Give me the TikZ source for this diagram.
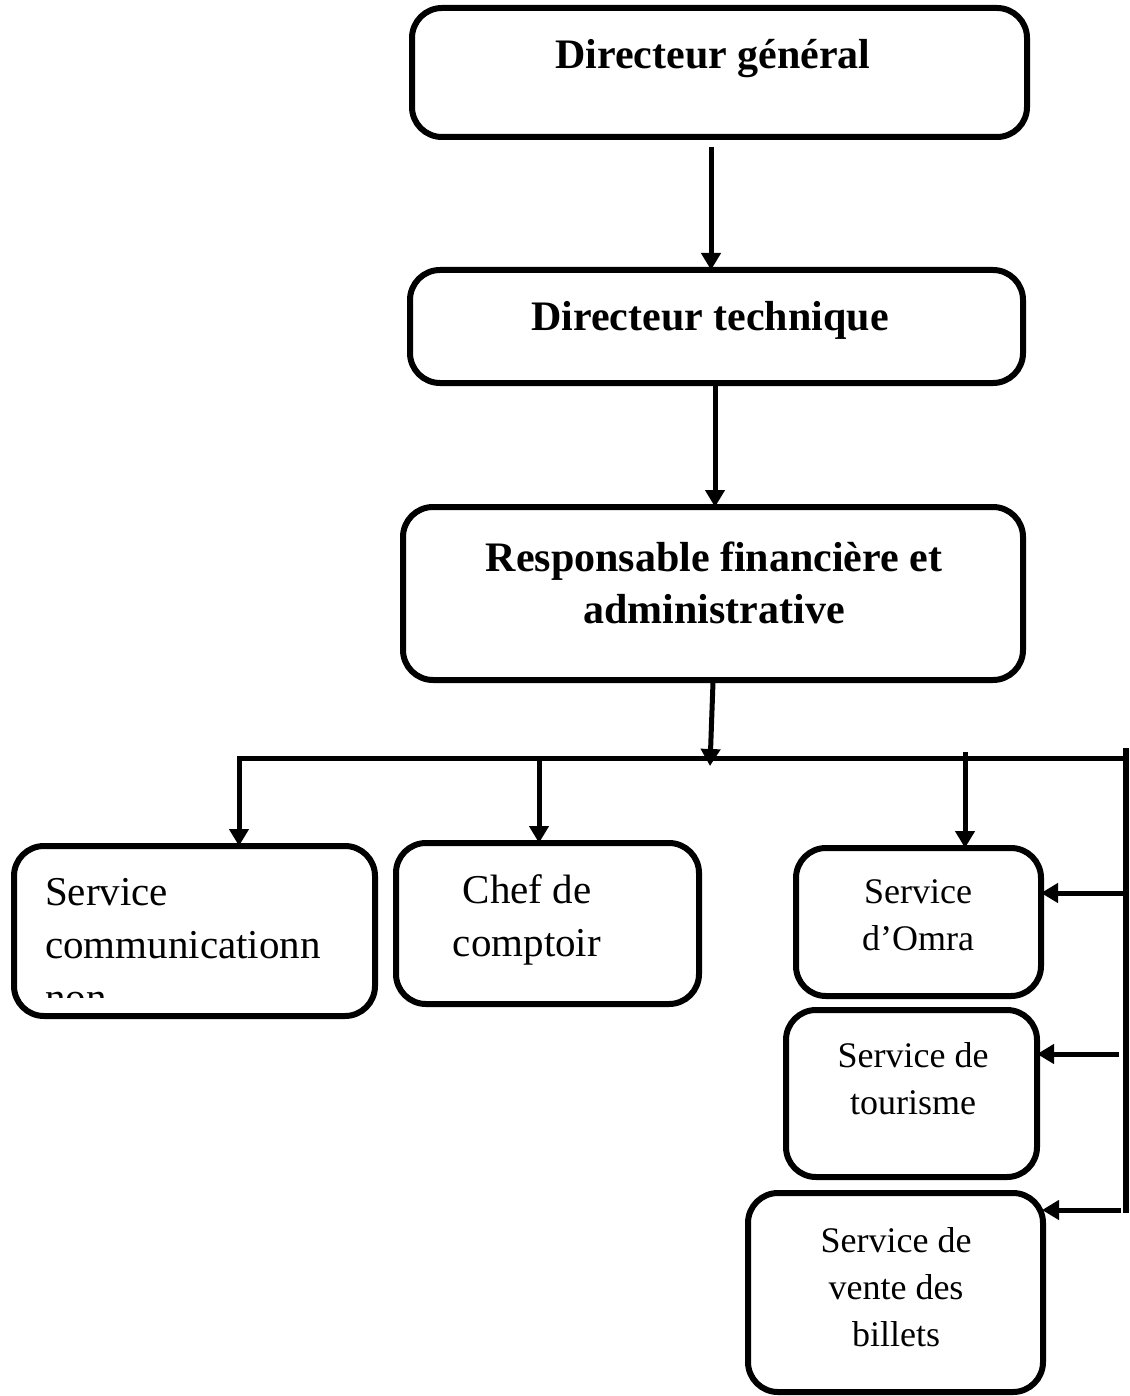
\documentclass[tikz,border=0pt]{standalone}
\usepackage{fontspec}
\setmainfont{Liberation Serif}
\usetikzlibrary{arrows.meta,calc}

\tikzset{
  box/.style={draw, line width=6pt, rounded corners=30pt, inner sep=0pt, outer sep=0pt},
  boldtxt/.style={align=center, inner sep=0pt, font=\fontsize{42}{52}\selectfont\bfseries},
  bigtxt/.style={align=center, inner sep=0pt, font=\fontsize{41}{53}\selectfont},
  smalltxt/.style={align=center, inner sep=0pt, font=\fontsize{36}{47}\selectfont},
  link/.style={line width=5pt, -{Triangle[length=17pt,width=19pt]}},
  bar/.style={line width=5pt},
}

\begin{document}
\begin{tikzpicture}[x=1pt,y=-1pt]
\useasboundingbox (0,0) rectangle (1129,1396);

% boxes
\node[box, minimum width=615pt, minimum height=129pt] (b1) at (719.5,72.5) {};
\node[box, minimum width=613pt, minimum height=113pt] (b2) at (716.5,326.5) {};
\node[box, minimum width=620pt, minimum height=173pt] (b3) at (713,593.5) {};
\node[box, minimum width=361pt, minimum height=170pt] (b4) at (194.5,931) {};
\node[box, minimum width=303pt, minimum height=161pt] (b5) at (547.5,923.5) {};
\node[box, minimum width=245pt, minimum height=148pt] (b6) at (918.5,922) {};
\node[box, minimum width=251pt, minimum height=167pt] (b7) at (911.5,1093.5) {};
\node[box, minimum width=295pt, minimum height=199pt] (b8) at (895.5,1292.5) {};

% labels
\node[boldtxt] (t1) at (713,59) {Directeur général};
\node[boldtxt] (t2) at (710,320) {Directeur technique};
\node[boldtxt] (t3) at (714,583) {Responsable financière et\\administrative};
\begin{scope}
  \clip (14,846) rectangle (375,997);
  \node[bigtxt, align=left, anchor=north west] (t4) at (45,878) {Service\\communicationn\\non};
\end{scope}
\node[bigtxt, align=center, anchor=north] (t5) at (527,874) {Chef de\\comptoir};
\node[smalltxt, anchor=north] (t6) at (918,879) {Service\\d’Omra};
\node[smalltxt, anchor=north] (t7) at (913,1042) {Service de\\tourisme};
\node[smalltxt, anchor=north] (t8) at (896,1227) {Service de\\vente des\\billets};

% junctions
\coordinate (a1) at (711,147);
\coordinate (a2) at (715,383);
\coordinate (a3) at (713,682);
\coordinate (bus) at (710,766);
\coordinate (busL) at (237,758);
\coordinate (busR) at (1126,758);
\coordinate (vTop) at (1126,748);
\coordinate (vBot) at (1126,1213);
\coordinate (d4) at (239,756);
\coordinate (d5) at (539,756);
\coordinate (d6) at (965,752);
\coordinate (h6) at (1124,893);
\coordinate (h7) at (1119,1054);
\coordinate (h8) at (1121,1210);

% connectors
\draw[link] (a1) -- (a1 |- b2.north);
\draw[link] (a2) -- (a2 |- b3.north);
\draw[link] (a3) -- (bus);
\draw[bar] (busL) -- (busR);
\draw[line width=6pt] (vTop) -- (vBot);
\draw[link] (d4) -- (d4 |- b4.north);
\draw[link] (d5) -- (d5 |- b5.north);
\draw[link] (d6) -- (d6 |- b6.north);
\draw[link] (h6) -- (h6 -| b6.east);
\draw[link] (h7) -- (h7 -| b7.east);
\draw[link] (h8) -- (1042,1210);
\end{tikzpicture}
\end{document}
